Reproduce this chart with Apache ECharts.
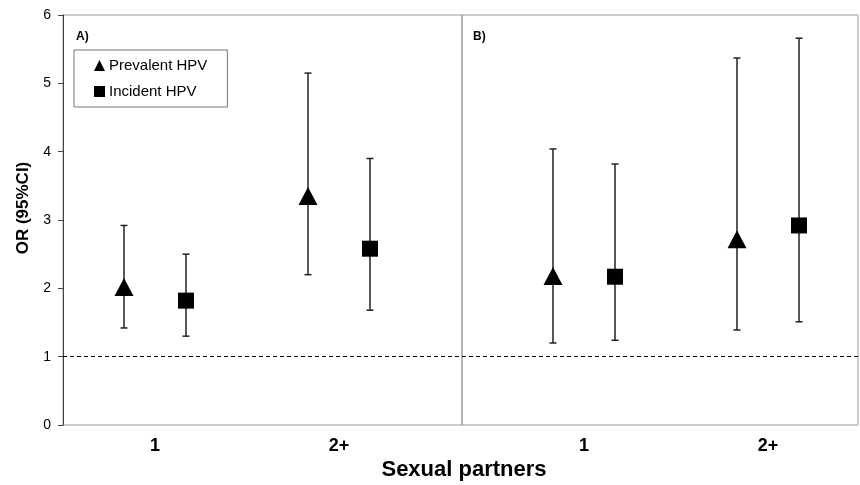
<!DOCTYPE html>
<html>
<head>
<meta charset="utf-8">
<script src="https://cdn.jsdelivr.net/npm/echarts@6/dist/echarts.min.js"></script>
<style>
  html, body { margin: 0; padding: 0; background: #fff; }
  #chart { width: 860px; height: 485px; }
</style>
</head>
<body>
<div id="chart"></div>
<script>
// categories (sexual partners)
const categories = ['1', '2+']
const yTicks = [0, 1, 2, 3, 4, 5, 6]

// panel A
const prevA = [2.02, 3.35]
const prevALow = [1.42, 2.20]
const prevAHigh = [2.92, 5.15]
const incA = [1.82, 2.58]
const incALow = [1.30, 1.68]
const incAHigh = [2.50, 3.90]

// panel B
const prevB = [2.18, 2.72]
const prevBLow = [1.20, 1.39]
const prevBHigh = [4.04, 5.37]
const incB = [2.17, 2.92]
const incBLow = [1.24, 1.51]
const incBHigh = [3.82, 5.66]

const FONT = '"Liberation Sans", Arial, sans-serif'
const OFFSET = 31 // px, marker offset inside a category

const chart = echarts.init(document.getElementById('chart'), null, { renderer: 'canvas' })

function errorBars(name, low, high, dx, axisIdx) {
  return {
    name: name + ' CI',
    type: 'custom',
    xAxisIndex: axisIdx,
    yAxisIndex: axisIdx,
    z: 2,
    silent: true,
    data: low.map((l, i) => [i, l, high[i]]),
    renderItem: (params, api) => {
      const lo = api.coord([api.value(0), api.value(1)])
      const hi = api.coord([api.value(0), api.value(2)])
      const x = lo[0] + dx
      const cap = 3.5
      const style = { stroke: '#222', lineWidth: 1.5 }
      return {
        type: 'group',
        children: [
          { type: 'line', shape: { x1: x, y1: lo[1], x2: x, y2: hi[1] }, style },
          { type: 'line', shape: { x1: x - cap, y1: lo[1], x2: x + cap, y2: lo[1] }, style },
          { type: 'line', shape: { x1: x - cap, y1: hi[1], x2: x + cap, y2: hi[1] }, style },
        ],
      }
    },
  }
}

function points(name, values, symbol, size, dx, axisIdx) {
  return {
    name,
    type: 'scatter',
    xAxisIndex: axisIdx,
    yAxisIndex: axisIdx,
    z: 3,
    symbol,
    symbolSize: size,
    symbolOffset: [dx, 0],
    itemStyle: { color: '#000', opacity: 1 },
    data: values.map((v, i) => [i, v]),
  }
}

const hiddenValueX = (grid) => ({
  type: 'value', gridIndex: grid, min: 0, max: 1,
  axisLine: { show: false }, axisTick: { show: false },
  axisLabel: { show: false }, splitLine: { show: false },
})
const hiddenY = (grid) => ({
  type: 'value', gridIndex: grid, min: 0, max: 6, interval: 1,
  axisLine: { show: false }, axisTick: { show: false },
  axisLabel: { show: false }, splitLine: { show: false },
})
const catX = (grid) => ({
  type: 'category', gridIndex: grid, data: categories,
  axisLine: { show: false }, axisTick: { show: false }, splitLine: { show: false },
  axisLabel: { color: '#000', fontFamily: FONT, fontSize: 18, fontWeight: 'bold', margin: 12 },
})

chart.setOption({
  animation: false,
  backgroundColor: '#fff',
  title: [
    { text: 'A)', left: 71, top: 26, textStyle: { fontFamily: FONT, fontSize: 12, fontWeight: 'bold', color: '#000' } },
    { text: 'B)', left: 468, top: 26, textStyle: { fontFamily: FONT, fontSize: 12, fontWeight: 'bold', color: '#000' } },
    { text: 'Sexual partners', left: 459, top: 454, textAlign: 'center',
      textStyle: { fontFamily: FONT, fontSize: 22, fontWeight: 'bold', color: '#000' } },
  ],
  legend: {
    orient: 'vertical',
    left: 74,
    top: 50,
    padding: [8, 20, 8, 20],
    itemGap: 11,
    itemWidth: 11,
    itemHeight: 11,
    borderColor: '#777',
    borderWidth: 1,
    data: [
      { name: 'Prevalent HPV', icon: 'triangle' },
      { name: 'Incident HPV', icon: 'rect' },
    ],
    textStyle: { fontFamily: FONT, fontSize: 15, color: '#000', padding: [0, 0, 0, -1] },
  },
  grid: [
    { left: 63, top: 15, width: 399, height: 410, show: true, borderColor: '#999', borderWidth: 1 },
    { left: 462, top: 15, right: 2, height: 410, show: true, borderColor: '#999', borderWidth: 1 },
    { left: 63, top: 15, width: 368, height: 410 },
    { left: 492, top: 15, right: 0, height: 410 },
  ],
  xAxis: [hiddenValueX(0), hiddenValueX(1), catX(2), catX(3)],
  yAxis: [
    {
      type: 'value', gridIndex: 0, min: 0, max: 6, interval: 1,
      axisLine: { show: true, lineStyle: { color: '#444', width: 1 } },
      axisTick: { show: true, length: 5, lineStyle: { color: '#444' } },
      axisLabel: { color: '#000', fontFamily: FONT, fontSize: 14, margin: 12,
        formatter: (v) => (yTicks.includes(v) ? String(v) : '') },
      splitLine: { show: false },
      name: 'OR (95%CI)',
      nameLocation: 'middle',
      nameGap: 31,
      nameTextStyle: { fontFamily: FONT, fontSize: 17, fontWeight: 'bold', color: '#000', padding: [0, 0, 0, 24] },
    },
    hiddenY(1), hiddenY(2), hiddenY(3),
  ],
  series: [
    {
      type: 'scatter', xAxisIndex: 0, yAxisIndex: 0, data: [], silent: true,
      markLine: { symbol: 'none', silent: true, label: { show: false },
        lineStyle: { color: '#000', type: [4, 3], width: 1 }, data: [{ yAxis: 1 }] },
    },
    {
      type: 'scatter', xAxisIndex: 1, yAxisIndex: 1, data: [], silent: true,
      markLine: { symbol: 'none', silent: true, label: { show: false },
        lineStyle: { color: '#000', type: [4, 3], width: 1 }, data: [{ yAxis: 1 }] },
    },
    errorBars('Prevalent HPV', prevALow, prevAHigh, -OFFSET, 2),
    errorBars('Incident HPV', incALow, incAHigh, OFFSET, 2),
    errorBars('Prevalent HPV', prevBLow, prevBHigh, -OFFSET, 3),
    errorBars('Incident HPV', incBLow, incBHigh, OFFSET, 3),
    points('Prevalent HPV', prevA, 'triangle', [19, 18], -OFFSET, 2),
    points('Incident HPV', incA, 'rect', 16, OFFSET, 2),
    points('Prevalent HPV', prevB, 'triangle', [19, 18], -OFFSET, 3),
    points('Incident HPV', incB, 'rect', 16, OFFSET, 3),
  ],
})
</script>
</body>
</html>
